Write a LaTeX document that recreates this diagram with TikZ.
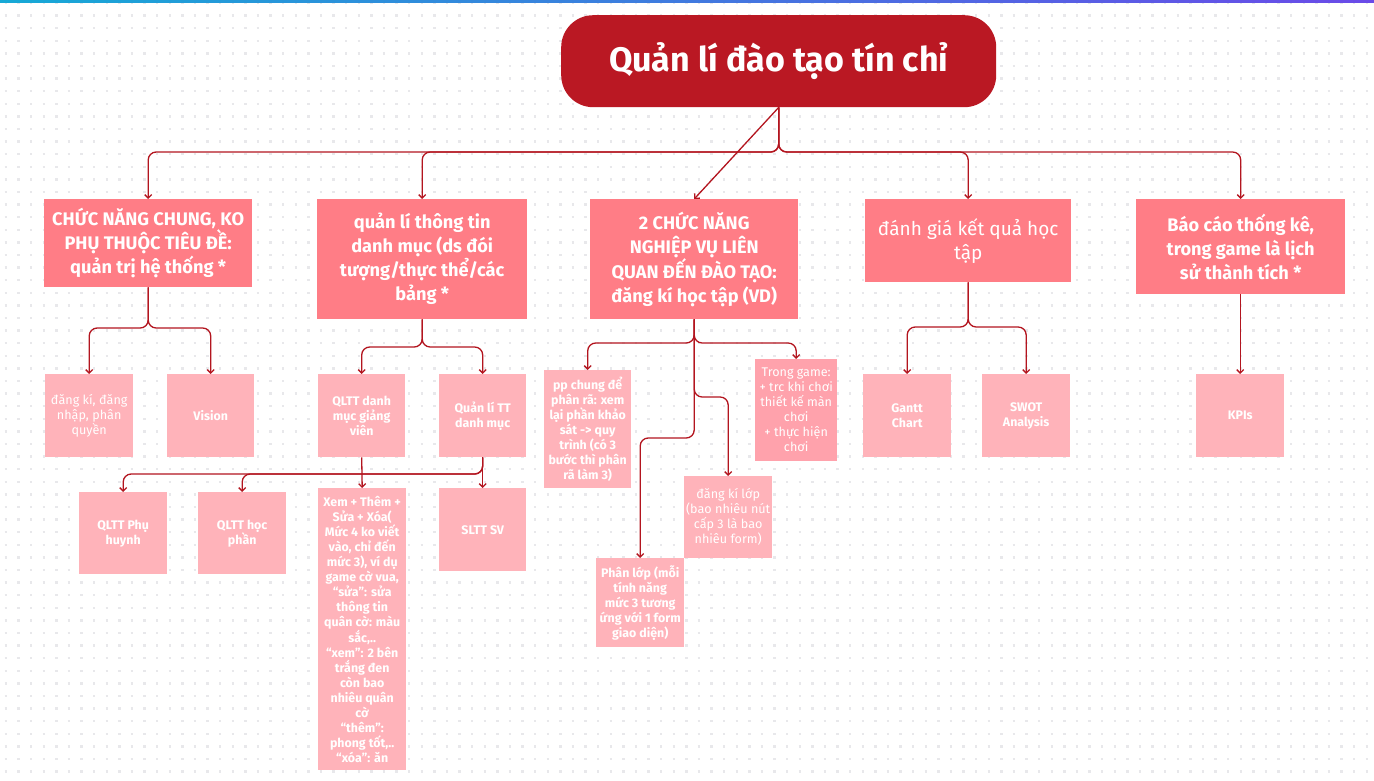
\documentclass[tikz,border=0pt]{standalone}
\usepackage{fontspec}
\setmainfont{Fira Sans}
\usetikzlibrary{arrows.meta}
\definecolor{linec}{HTML}{B3151F}
\definecolor{titlec}{HTML}{BA1823}
\definecolor{lvlc}{HTML}{FF7D86}
\definecolor{smc}{HTML}{FFB3BA}
\definecolor{tgc}{HTML}{FFA2AC}
\definecolor{dotc}{HTML}{E8E8EB}
\definecolor{barL}{HTML}{16A9D6}
\definecolor{barR}{HTML}{6A4AE8}
\begin{document}
\begin{tikzpicture}[x=1pt,y=-1pt,
  conn/.style={draw=linec, line width=1.3pt, rounded corners=8pt, -{Straight Barb[length=3.5pt,width=7pt]}},
  bx/.style 2 args={inner sep=0pt, anchor=north west, align=center, text=white, minimum width=#1pt, minimum height=#2pt},
  lvl/.style={fill=lvlc, font=\bfseries\fontsize{18.2}{24}\selectfont},
  sm/.style={fill=smc, font=\bfseries\fontsize{12.4}{15}\selectfont},
  smr/.style={fill=smc, font=\fontsize{12.6}{15}\selectfont},
]
\useasboundingbox (0,0) rectangle (1374,780);
\fill[white] (0,0) rectangle (1374,780);
\foreach \j in {0,...,61}
  \draw[dotc, line width=2.4pt, dash pattern=on 2.4pt off 10.2pt] (4.8,3+12.6*\j) -- (1374,3+12.6*\j);
\shade[left color=barL, right color=barR] (0,0) rectangle (1374,2);

% title
\node[bx={435}{92}, fill=titlec, rounded corners=32pt, font=\bfseries\fontsize{34}{40}\selectfont] (t) at (561,15) {Quản lí đào tạo tín chỉ};

% level 1
\node[bx={208}{88}, lvl] (b1) at (44,199) {CHỨC NĂNG CHUNG, KO\\PHỤ THUỘC TIÊU ĐỀ:\\quản trị hệ thống *};
\node[bx={210}{120}, lvl] (b2) at (317,199) {quản lí thông tin\\danh mục (ds đói\\tượng/thực thể/các\\bảng *};
\node[bx={208}{120}, lvl] (b3) at (590,199) {2 CHỨC NĂNG\\NGHIỆP VỤ LIÊN\\QUAN ĐẾN ĐÀO TẠO:\\đăng kí học tập (VD)};
\node[bx={206}{83}, lvl, font=\fontsize{19}{24}\selectfont] (b4) at (865,199) {đánh giá kết quả học\\tập};
\node[bx={209}{95}, lvl] (b5) at (1136,199) {Báo cáo thống kê,\\trong game là lịch\\sử thành tích *};

% small boxes
\node[bx={88}{83}, smr] (s1) at (45,374) {đăng kí, đăng\\nhập, phân\\quyền};
\node[bx={87}{83}, sm] (s2) at (167,374) {Vision};
\node[bx={87}{83}, sm] (s3) at (318,374) {QLTT danh\\mục giảng\\viên};
\node[bx={87}{83}, sm] (s4) at (439,374) {Quản lí TT\\danh mục};
\node[bx={88}{82}, sm] (ph) at (79,492) {QLTT Phụ\\huynh};
\node[bx={88}{82}, sm] (hp) at (198,492) {QLTT học\\phần};
\node[bx={88}{282}, sm] (xem) at (318,488) {Xem + Thêm +\\Sửa + Xóa(\\Mức 4 ko viết\\vào, chỉ đến\\mức 3), ví dụ\\game cờ vua,\\“sửa”: sửa\\thông tin\\quân cờ: màu\\sắc,..\\“xem”: 2 bên\\trắng đen\\còn bao\\nhiêu quân\\cờ\\“thêm”:\\phong tốt,..\\“xóa”: ăn};
\node[bx={87}{83}, sm] (sv) at (439,488) {SLTT SV};
\node[bx={87}{118}, sm] (pp) at (544,370) {pp chung để\\phân rã: xem\\lại phần khảo\\sát -> quy\\trình (có 3\\bước thì phân\\rã làm 3)};
\node[bx={82}{102}, smr, fill=tgc] (tg) at (755,359) {Trong game:\\+ trc khi chơi\\thiết kế màn\\chơi\\+ thực hiện\\chơi};
\node[bx={88}{82}, smr] (dkl) at (684,476) {đăng kí lớp\\(bao nhiêu nút\\cấp 3 là bao\\nhiêu form)};
\node[bx={88}{89}, sm] (pl) at (596,558) {Phân lớp (mỗi\\tính năng\\mức 3 tương\\ứng với 1 form\\giao diện)};
\node[bx={88}{83}, sm] (ga) at (863,374) {Gantt\\Chart};
\node[bx={88}{83}, sm] (sw) at (982,374) {SWOT\\Analysis};
\node[bx={88}{83}, sm] (kp) at (1196,374) {KPIs};

% connectors
\coordinate (tb) at (0,152);
\foreach \c in {b1,b2,b4,b5}
  \draw[conn] (t.south) |- (\c.north |- tb) -- (\c.north);
\draw[conn] (t.south) -- (b3.north);

\coordinate (c1) at (0,328);
\foreach \c in {s1,s2}
  \draw[conn] (b1.south) |- (\c.north |- c1) -- (\c.north);

\coordinate (c2) at (0,347);
\foreach \c in {s3,s4}
  \draw[conn] (b2.south) |- (\c.north |- c2) -- (\c.north);
\draw[conn] (s3.south) -- (xem.north);

\coordinate (c4) at (0,474);
\foreach \c in {ph,hp}
  \draw[conn] (s4.south) |- (\c.north |- c4) -- (\c.north);
\draw[conn] (s4.south) -- (sv.north);

\coordinate (c3) at (0,343);
\foreach \c in {pp,tg}
  \draw[conn] (b3.south) |- (\c.north |- c3) -- (\c.north);
\coordinate (c5) at (0,397);
\draw[conn] (b3.south) |- (dkl.north |- c5) -- (dkl.north);
\coordinate (c6) at (0,438);
\draw[conn] (b3.south) |- (pl.north |- c6) -- (pl.north);

\coordinate (c7) at (0,327);
\foreach \c in {ga,sw}
  \draw[conn] (b4.south) |- (\c.north |- c7) -- (\c.north);
\draw[conn] (kp.north |- b5.south) -- (kp.north);
\end{tikzpicture}
\end{document}
